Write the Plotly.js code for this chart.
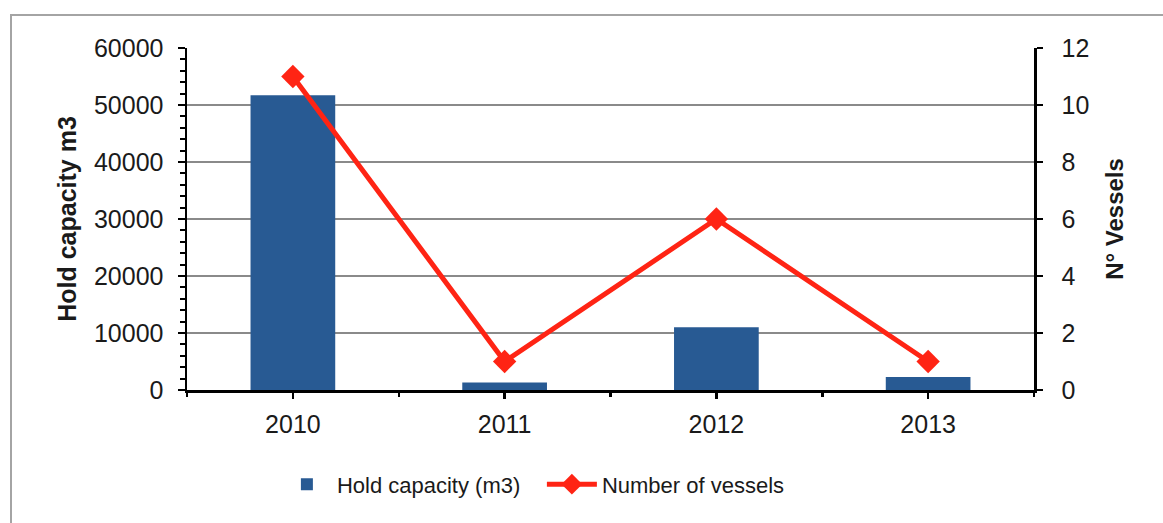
<!DOCTYPE html>
<html>
<head>
<meta charset="utf-8">
<script src="https://cdn.plot.ly/plotly-3.0.1.min.js"></script>
<style>
  html, body { margin: 0; padding: 0; background: #ffffff; }
  #wrap { position: relative; width: 1163px; height: 523px; }
  #frame { position: absolute; left: 10px; top: 14px; right: 0; bottom: 0;
           border-top: 2px solid #a4a4a4; border-left: 2px solid #a4a4a4; pointer-events: none; }
  #chart { position: absolute; left: 0; top: 0; width: 1163px; height: 523px; }
</style>
</head>
<body>
<div id="wrap">
  <div id="chart"></div>
  <div id="frame"></div>
</div>
<script>
const years = ['2010', '2011', '2012', '2013'];
const holdCapacity = [51700, 1300, 11000, 2300];
const numberOfVessels = [11, 1, 6, 1];
const leftTicks = [0, 10000, 20000, 30000, 40000, 50000, 60000];
const rightTicks = [0, 2, 4, 6, 8, 10, 12];

const FONT = 'Liberation Sans, Arial, sans-serif';

const traces = [
  {
    type: 'bar',
    name: 'Hold capacity (m3)',
    x: years,
    y: holdCapacity,
    xaxis: 'x',
    yaxis: 'y',
    width: 0.4,
    marker: { color: '#285a93', line: { width: 0 } },
    hoverinfo: 'skip'
  },
  {
    type: 'scatter',
    mode: 'lines+markers',
    name: 'Number of vessels',
    x: years,
    y: numberOfVessels,
    xaxis: 'x2',
    yaxis: 'y2',
    line: { color: '#ff2414', width: 5 },
    marker: { symbol: 'diamond', size: 18, color: '#ff2414' },
    hoverinfo: 'skip'
  }
];

const layout = {
  width: 1163,
  height: 523,
  margin: { l: 187, r: 129, t: 48, b: 133 },
  paper_bgcolor: 'rgba(0,0,0,0)',
  plot_bgcolor: 'rgba(0,0,0,0)',
  font: { family: FONT, size: 25, color: '#1a1a1a' },
  showlegend: true,
  legend: {
    orientation: 'h',
    x: 0.419, xanchor: 'center',
    y: -0.276, yanchor: 'middle',
    font: { family: FONT, size: 22, color: '#1a1a1a' },
    itemwidth: 50,
    entrywidth: 200,
    bgcolor: 'rgba(0,0,0,0)'
  },
  xaxis: {
    type: 'category',
    categoryorder: 'array',
    categoryarray: years,
    range: [-0.5, 3.5],
    fixedrange: true,
    showline: true, linecolor: '#000000', linewidth: 2.5,
    ticks: 'outside', ticklen: 6, tickwidth: 2.5, tickcolor: '#000000',
    ticklabelstandoff: 4,
    tickfont: { family: FONT, size: 25, color: '#1a1a1a' },
    showgrid: false, zeroline: false
  },
  xaxis2: {
    type: 'category',
    categoryorder: 'array',
    categoryarray: years,
    range: [-0.5, 3.5],
    overlaying: 'x',
    anchor: 'y',
    side: 'bottom',
    fixedrange: true,
    showline: false,
    tickson: 'boundaries',
    ticks: 'outside', ticklen: 6, tickwidth: 2.5, tickcolor: '#000000',
    showticklabels: false,
    showgrid: false, zeroline: false
  },
  yaxis: {
    range: [0, 60000],
    tickvals: leftTicks,
    ticktext: leftTicks.map(String),
    fixedrange: true,
    showline: true, linecolor: '#000000', linewidth: 2.5,
    ticks: 'outside', ticklen: 7, tickwidth: 2.5, tickcolor: '#000000',
    ticklabelstandoff: 9,
    minor: { dtick: 2000, ticks: 'outside', ticklen: 5, tickwidth: 2, tickcolor: '#000000', showgrid: false },
    showgrid: true, gridcolor: '#8a8a8a', gridwidth: 1.5,
    zeroline: false,
    tickfont: { family: FONT, size: 25, color: '#1a1a1a' },
    title: { text: '<b>Hold capacity m3</b>', standoff: 10,
             font: { family: FONT, size: 25, color: '#1a1a1a' } }
  },
  yaxis2: {
    range: [0, 12],
    tickvals: rightTicks,
    ticktext: rightTicks.map(String),
    overlaying: 'y',
    side: 'right',
    anchor: 'x',
    fixedrange: true,
    showline: true, linecolor: '#000000', linewidth: 2.5,
    ticks: 'outside', ticklen: 6, tickwidth: 2.5, tickcolor: '#000000',
    ticklabelstandoff: 14,
    showgrid: false, zeroline: false,
    tickfont: { family: FONT, size: 25, color: '#1a1a1a' },
    title: { text: '<b>N° Vessels</b>', standoff: 18,
             font: { family: FONT, size: 24, color: '#1a1a1a' } }
  }
};

Plotly.newPlot('chart', traces, layout, { displayModeBar: false, staticPlot: true });
</script>
</body>
</html>
